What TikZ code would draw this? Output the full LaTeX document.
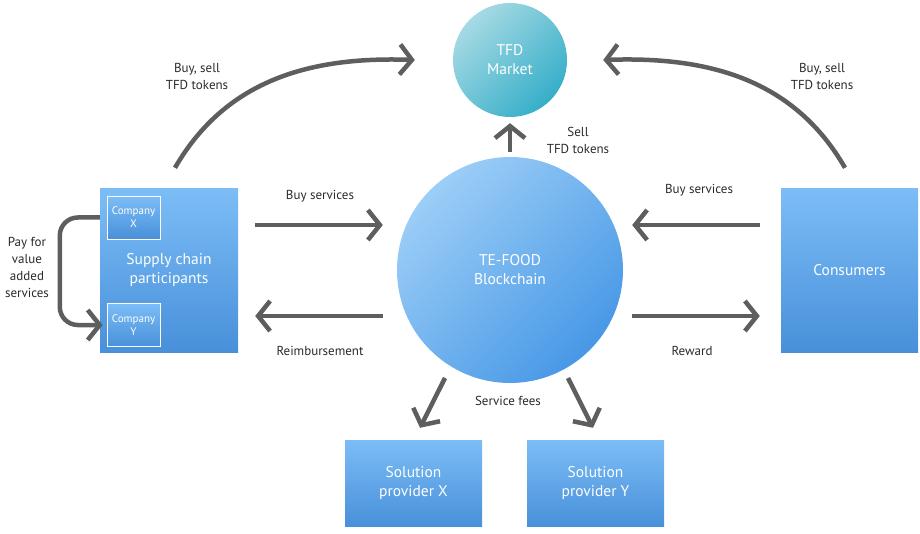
\documentclass[tikz,border=0pt]{standalone}
\usepackage{fontspec}
\setmainfont{PT Sans}
\usetikzlibrary{positioning}
\usetikzlibrary{calc}
\usetikzlibrary{arrows.meta}

\definecolor{boxtop}{HTML}{7CBDF6}
\definecolor{boxbot}{HTML}{4890DA}
\definecolor{chainlt}{HTML}{9CCEF7}
\definecolor{chaindk}{HTML}{4898E6}
\definecolor{mktlt}{HTML}{A6DAE4}
\definecolor{mktdk}{HTML}{36AEC8}
\definecolor{flowgray}{HTML}{5E5E5E}
\definecolor{notegray}{HTML}{2A2A2A}

\begin{document}
\begin{tikzpicture}[x=1pt, y=-1pt,
    party/.style={rectangle, top color=boxtop, bottom color=boxbot, text=white, align=center,
        inner sep=0pt, font=\fontsize{15.5}{19}\selectfont},
    company/.style={party, draw=white, line width=0.8pt, minimum width=53pt, minimum height=43pt,
        font=\fontsize{11}{13}\selectfont},
    hub/.style={circle, inner sep=0pt, text=white, align=center, font=\fontsize{15.5}{19}\selectfont},
    note/.style={align=center, text=notegray, font=\fontsize{13}{17}\selectfont},
    flow/.style={draw=flowgray, line width=4.5pt, -{Straight Barb[length=12pt,width=30pt]}}]

    \useasboundingbox (0,0) rectangle (920,534);

    \node[hub, minimum size=114pt, top color=mktlt, bottom color=mktdk, shading angle=45] (market) at (510,60) {TFD\\Market};
    \node[hub, minimum size=226pt, top color=chainlt, bottom color=chaindk, shading angle=45] (chain) at (510,270) {TE-FOOD\\Blockchain};

    \node[party, minimum width=138pt, minimum height=163pt] (supply) at (169,270.5) {Supply chain\\participants};
    \node[company] (compx) at (133.5,217.5) {Company\\X};
    \node[company] (compy) at (133.5,325) {Company\\Y};
    \node[party, minimum width=137pt, minimum height=163pt] (consumers) at (849.5,270.5) {Consumers};

    \node[party, minimum width=137pt, minimum height=86pt] (solx) at (413.5,483) {Solution\\provider X};
    \node[party, minimum width=137pt, minimum height=86pt] (soly) at (595.5,483) {Solution\\provider Y};

    % tokens
    \draw[flow] ($(supply.north)+(6,-21)$) to[out=60,in=178] ($(market.west)+(-38,0)$);
    \draw[flow] ($(consumers.north)+(-4.5,-21)$) to[out=120,in=2] ($(market.east)+(36,0)$);
    \draw[flow] ($(chain.north)+(0,-5)$) -- ($(market.south)+(0,6)$);

    % services
    \draw[flow] ($(supply.east)+(17,-45.5)$) -- ($(chain.west)+(-14,-45)$);
    \draw[flow] ($(chain.west)+(-14,46)$) -- ($(supply.east)+(17,45.5)$);
    \draw[flow] ($(consumers.west)+(-21,-45.5)$) -- ($(chain.east)+(9,-45)$);
    \draw[flow] ($(chain.east)+(9,46)$) -- ($(consumers.west)+(-21,45.5)$);

    % fees
    \draw[flow] ($(chain.center)+(-65,108)$) -- ($(solx.north)+(6.5,-12)$);
    \draw[flow] ($(chain.center)+(58,108)$) -- ($(soly.north)+(-2.5,-12)$);

    \draw[flow, rounded corners=18pt] (compx.west -| supply.west) -- ++(-40,0) |- ($(compy.west)+(-4,0)$);

    \node[note] (tradel) at (197,76) {Buy, sell\\TFD tokens};
    \node[note] (trader) at (822,76) {Buy, sell\\TFD tokens};
    \node[note] (sell) at (578,140) {Sell\\TFD tokens};
    \node[note] (buyl) at (320,196) {Buy services};
    \node[note] (reimb) at (320,351) {Reimbursement};
    \node[note] (buyr) at (699,190) {Buy services};
    \node[note] (reward) at (692,351) {Reward};
    \node[note] (fees) at (508,401) {Service fees};
    \node[note] (pay) at (27,267) {Pay for\\value\\added\\services};
\end{tikzpicture}
\end{document}
